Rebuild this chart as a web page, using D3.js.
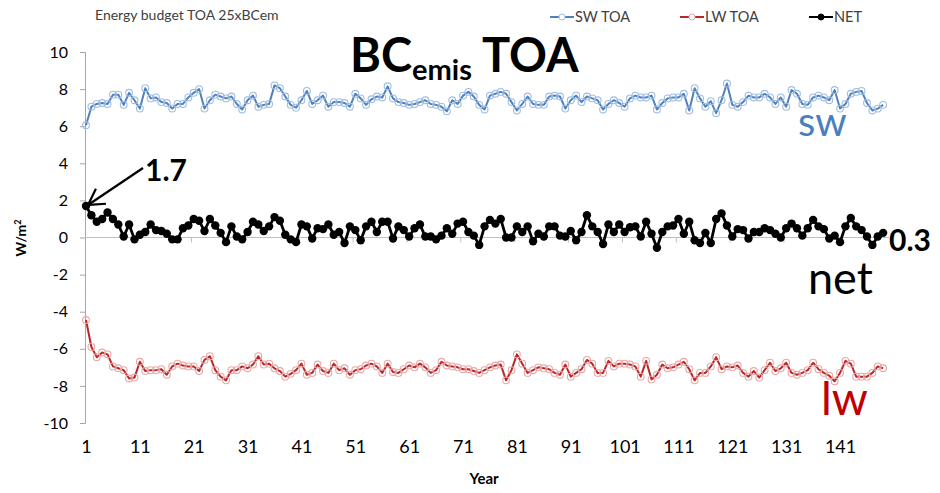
<!DOCTYPE html>
<html><head><meta charset="utf-8">
<script src="https://cdn.jsdelivr.net/npm/d3@7"></script>
<style>body{margin:0;background:#fff} svg{display:block}</style>
</head><body><svg id="c" width="940" height="493"></svg>
<script>
const sw = [6.05,7.05,7.2,7.25,7.2,7.7,7.7,7.15,7.8,7.4,
6.95,8.05,7.5,7.55,7.3,7.25,6.95,7.2,7.2,7.55,
7.8,8.0,6.95,7.4,7.7,7.6,7.5,7.6,7.2,6.9,
7.4,7.65,7.05,7.15,7.2,8.2,8.05,7.6,7.15,7.0,
7.4,7.9,7.2,7.4,7.65,7.05,7.3,7.3,7.25,7.05,
7.75,7.5,7.15,7.45,7.6,7.55,8.15,7.5,7.3,7.25,
7.15,7.2,7.3,7.4,7.2,7.15,7.05,6.8,7.4,7.2,
7.65,7.85,7.6,7.15,6.9,7.65,7.75,7.85,7.75,7.3,
6.85,7.2,7.6,7.2,7.15,7.15,7.6,7.65,7.6,6.95,
7.4,7.65,7.3,7.6,7.5,7.4,6.9,7.2,7.4,7.25,
7.05,7.5,7.65,7.55,7.55,7.65,6.9,7.25,7.5,7.55,
7.55,7.75,6.85,8.05,7.5,7.05,7.35,6.7,7.4,8.3,
7.15,7.05,7.3,7.65,7.55,7.55,7.75,7.55,7.2,7.55,
7.05,7.95,7.75,7.2,7.15,7.55,7.65,7.55,7.4,7.95,
6.95,7.2,7.75,7.85,7.9,7.25,6.85,6.95,7.15];

const lw = [-4.45,-5.9,-6.45,-6.2,-6.3,-6.95,-7.05,-7.15,-7.6,-7.55,
-6.7,-7.2,-7.15,-7.15,-7.1,-7.4,-6.95,-6.8,-6.9,-6.95,
-6.95,-7.2,-6.6,-6.4,-7.15,-7.5,-7.7,-7.15,-7.15,-6.95,
-7.05,-6.85,-6.4,-6.85,-6.8,-7.05,-7.2,-7.5,-7.35,-7.15,
-6.8,-7.4,-7.3,-6.85,-7.2,-7.3,-6.8,-7.15,-7.05,-7.4,
-7.15,-7.1,-6.9,-6.8,-6.95,-7.3,-6.8,-7.25,-7.3,-7.1,
-6.9,-7.0,-6.8,-7.0,-7.3,-7.15,-6.7,-6.9,-6.95,-7.0,
-7.1,-7.1,-7.2,-7.3,-7.15,-7.0,-6.9,-6.85,-7.7,-7.15,
-6.3,-6.8,-7.3,-7.15,-7.0,-7.05,-7.1,-7.3,-7.4,-6.85,
-7.5,-7.3,-7.1,-6.6,-6.8,-7.3,-7.3,-6.65,-6.95,-6.8,
-6.8,-6.85,-6.95,-7.5,-6.65,-7.65,-7.4,-6.85,-7.05,-7.0,
-6.85,-6.7,-7.1,-7.7,-7.3,-7.3,-6.95,-6.45,-7.1,-6.95,
-7.0,-6.9,-7.3,-7.5,-7.2,-7.55,-7.15,-6.75,-7.2,-7.05,
-6.75,-7.3,-7.4,-7.3,-7.15,-6.75,-7.1,-7.3,-7.45,-7.75,
-7.3,-6.65,-6.8,-7.5,-7.5,-7.5,-7.3,-6.95,-7.05];

const net = [1.7,1.2,0.85,1.0,1.35,1.0,0.7,0.05,0.7,-0.1,
0.15,0.3,0.7,0.4,0.35,0.2,-0.1,-0.1,0.5,0.65,
1.0,0.9,0.35,1.0,0.65,0.25,-0.25,0.6,0.05,-0.1,
0.3,0.85,0.7,0.35,0.6,1.1,0.9,0.15,-0.1,-0.25,
0.7,0.6,-0.05,0.5,0.45,0.7,0.15,0.3,-0.3,0.6,
0.4,-0.15,0.6,0.85,0.3,0.85,0.85,-0.05,0.6,0.4,
0.05,0.5,0.7,0.05,0.05,-0.1,0.1,0.5,0.2,0.75,
0.85,0.3,0.1,-0.4,0.6,0.95,0.75,1.0,0,0,
0.6,0.3,0.6,-0.2,0.2,0.05,0.6,0.6,0.1,0.05,
0.35,-0.15,0.3,1.2,0.6,0.3,-0.35,0.7,0.3,0.7,
0.3,0.55,0.6,0.05,0.85,0.2,-0.55,0.3,0.6,0.65,
1.0,0.2,0.85,-0.15,-0.3,0.25,-0.3,1.0,1.3,0.65,
0.05,0.45,0.4,-0.05,0.3,0.3,0.5,0.4,0.2,0,
0.5,0.75,0.5,0.1,0.5,0.95,0.6,0.45,-0.05,0.1,
-0.25,0.6,1.05,0.6,0.4,0.05,-0.4,0.05,0.25];

const years = sw.map((d,i)=>i+1);
const yTicks = [10,8,6,4,2,0,-2,-4,-6,-8,-10];
const xTickLabels = [1,11,21,31,41,51,61,71,81,91,101,111,121,131,141];
const seriesNames = ["SW TOA","LW TOA","NET"];

const FONT = "Lato, 'Open Sans', sans-serif";
const svg = d3.select("#c");

const x = d3.scaleLinear().domain([1,150]).range([86, 86+149*5.386]);
const y = d3.scaleLinear().domain([-10,10]).range([423,52]);

// y axis
const yAxis = svg.append("g").attr("transform","translate(85,0)")
  .call(d3.axisLeft(y).tickValues(yTicks).tickSize(5).tickPadding(12).tickFormat(d=>String(d)));
yAxis.select(".domain").attr("stroke","#a6a6a6").attr("stroke-width",1);
yAxis.selectAll(".tick line").attr("stroke","#a6a6a6");
yAxis.selectAll("text").attr("font-family",FONT).attr("font-size",16).attr("fill","#000");

// zero line with tick marks
const zx = svg.append("g").attr("transform",`translate(0,${y(0)})`)
  .call(d3.axisBottom(x).tickValues(d3.range(10.5,151,10)).tickSize(5).tickSizeOuter(0).tickFormat(""));
zx.select(".domain").attr("stroke","#bfbfbf").attr("stroke-width",1.2).attr("d",`M85,0H889`);
zx.selectAll(".tick line").attr("stroke","#bfbfbf");

// x labels at bottom
const xl = svg.append("g").attr("transform","translate(0,440)")
  .call(d3.axisBottom(x).tickValues(xTickLabels).tickSize(0).tickPadding(0));
xl.select(".domain").remove();
xl.selectAll("text").attr("font-family",FONT).attr("font-size",18).attr("fill","#000").attr("dy","0.71em");

svg.append("text").attr("x",484).attr("y",484).attr("text-anchor","middle")
  .attr("font-family",FONT).attr("font-weight","bold").attr("font-size",15).text("Year");

svg.append("text").attr("transform","translate(26,238) rotate(-90)").attr("text-anchor","middle")
  .attr("font-family",FONT).attr("font-weight","bold").attr("font-size",14)
  .html('W/m<tspan font-size="9" dy="-5">2</tspan>');

const line = d3.line().x((d,i)=>x(years[i])).y(d=>y(d));

function drawSeries(data, lineColor, lw_, mColor, mFill, r, mw){
  const g = svg.append("g");
  g.append("path").datum(data).attr("d",line).attr("fill","none")
    .attr("stroke",lineColor).attr("stroke-width",lw_).attr("stroke-linejoin","round");
  g.selectAll("circle").data(data).join("circle")
    .attr("cx",(d,i)=>x(years[i])).attr("cy",d=>y(d)).attr("r",r)
    .attr("fill",mFill).attr("stroke",mColor).attr("stroke-width",mw);
}
drawSeries(sw,"#4f81bd",2,"#9fbde3","none",3.4,1.1);
drawSeries(lw,"#b8282a",2,"#e8a8a8","none",3.4,1.1);
drawSeries(net,"#000",2.8,"#000","#000",4.2,0);

// chart title
svg.append("text").attr("x",95).attr("y",20).attr("font-family",FONT).attr("font-size",14)
  .attr("fill","#404040").text("Energy budget TOA 25xBCem");

// legend
const leg = [{n:seriesNames[0],c:"#4f81bd",m:"#9fbde3",f:"#fff",x:550},
             {n:seriesNames[1],c:"#b8282a",m:"#e8a8a8",f:"#fff",x:680},
             {n:seriesNames[2],c:"#000",m:"#000",f:"#000",x:809}];
leg.forEach(l=>{
  svg.append("line").attr("x1",l.x).attr("x2",l.x+24).attr("y1",17).attr("y2",17)
    .attr("stroke",l.c).attr("stroke-width",2);
  svg.append("circle").attr("cx",l.x+12).attr("cy",17).attr("r",3).attr("fill",l.f).attr("stroke",l.m);
  svg.append("text").attr("x",l.x+25).attr("y",22).attr("font-family",FONT).attr("font-size",14.5)
    .attr("fill","#404040").text(l.n);
});

// big title
svg.append("text").attr("x",350).attr("y",72).attr("font-family",FONT).attr("font-weight","bold")
  .attr("font-size",47).attr("fill","#000")
  .html('BC<tspan font-size="29" dy="8">emis</tspan><tspan dy="-8" font-size="47"> TOA</tspan>');

// annotations
svg.append("text").attr("x",145).attr("y",181).attr("font-family",FONT).attr("font-weight","bold")
  .attr("font-size",30).text("1.7");
const tipX = x(1)+2, tipY = y(net[0])-1;
const ang = Math.atan2(168-tipY, 143-tipX);
const wl = 18, wa = Math.PI/6;
svg.append("line").attr("x1",143).attr("y1",168).attr("x2",tipX).attr("y2",tipY)
  .attr("stroke","#000").attr("stroke-width",2.2);
svg.append("path").attr("d",`M${tipX+wl*Math.cos(ang-wa)},${tipY+wl*Math.sin(ang-wa)} L${tipX},${tipY} L${tipX+wl*Math.cos(ang+wa)},${tipY+wl*Math.sin(ang+wa)}`)
  .attr("fill","none").attr("stroke","#000").attr("stroke-width",2.2);
svg.append("text").attr("x",889).attr("y",251).attr("font-family",FONT).attr("font-weight","bold")
  .attr("font-size",30).text("0.3");
svg.append("text").attr("x",808).attr("y",294).attr("font-family",FONT)
  .attr("font-size",45).attr("fill","#000").text("net");
svg.append("text").attr("x",798).attr("y",136).attr("font-family",FONT)
  .attr("font-size",40).attr("fill","#4a7ebf").text("sw");
svg.append("text").attr("x",821).attr("y",415).attr("font-family",FONT)
  .attr("font-size",46).attr("fill","#c00000").text("lw");
</script></body></html>
